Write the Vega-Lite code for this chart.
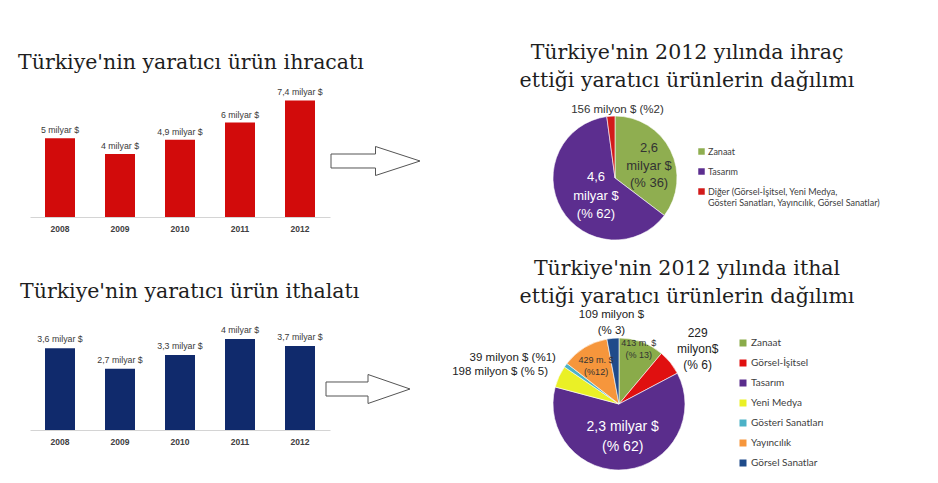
{
  "$schema": "https://vega.github.io/schema/vega-lite/v6.json",
  "padding": {"left": 18, "top": 42, "right": 5, "bottom": 0},
  "background": "white",
  "columns": 3,
  "spacing": {"row": 65, "column": 0},
  "bounds": "flush",
  "align": "each",
  "resolve": {"scale": {"color": "independent", "theta": "independent", "x": "independent", "y": "independent"}, "legend": {"color": "independent"}},
  "config": {"view": {"stroke": null}, "axis": {"grid": false}, "text": {"font": "Liberation Sans"}},
  "concat": [
    {
      "width": 300, "height": 126,
      "title": {"text": "Türkiye'nin yaratıcı ürün ihracatı", "anchor": "start", "frame": "group", "dx": -12, "offset": 15, "font": "DejaVu Serif", "fontSize": 20.5, "fontWeight": "normal", "color": "#1e1e1e"},
      "data": {"values": [
        {"year": "2008", "v": 5, "lbl": "5 milyar $"},
        {"year": "2009", "v": 4, "lbl": "4 milyar $"},
        {"year": "2010", "v": 4.9, "lbl": "4,9 milyar $"},
        {"year": "2011", "v": 6, "lbl": "6 milyar $"},
        {"year": "2012", "v": 7.4, "lbl": "7,4 milyar $"}
      ]},
      "encoding": {
        "x": {"field": "year", "type": "ordinal", "scale": {"paddingInner": 0.5, "paddingOuter": 0.25}, "axis": {"title": null, "labelAngle": 0, "ticks": false, "domainColor": "#d4d4d4", "labelPadding": 7, "labelFont": "Liberation Sans", "labelFontSize": 8.5, "labelFontWeight": "bold", "labelColor": "#404040"}},
        "y": {"field": "v", "type": "quantitative", "scale": {"domain": [0, 8], "nice": false}, "axis": null}
      },
      "layer": [
        {"mark": {"type": "bar", "color": "#d20b0b"}},
        {"mark": {"type": "text", "baseline": "bottom", "dy": -3, "fontSize": 8.8, "color": "#3a3a3a"}, "encoding": {"text": {"field": "lbl"}}}
      ]
    },
    {
      "width": 91, "height": 140,
      "data": {"values": [{"arrow": "ihracat"}]},
      "mark": {"type": "point", "shape": "M-1,-0.157L0,-0.157L0,-0.326L1,0L0,0.326L0,0.157L-1,0.157Z", "size": 7921, "filled": true, "fill": "#ffffff", "stroke": "#555555", "strokeWidth": 1, "opacity": 1},
      "encoding": {}
    },
    {
      "width": 388, "height": 174,
      "title": {"text": ["Türkiye'nin 2012 yılında ihraç", "ettiği yaratıcı ürünlerin dağılımı"], "anchor": "middle", "frame": "group", "dx": 72, "offset": 0, "lineHeight": 28, "font": "DejaVu Serif", "fontSize": 20.5, "fontWeight": "normal", "color": "#1e1e1e"},
      "data": {"values": [
        {"k": "Zanaat", "v": 2600, "o": 1, "lbl": "2,6\nmilyar $\n(% 36)"},
        {"k": "Tasarım", "v": 4600, "o": 2, "lbl": "4,6\nmilyar $\n(% 62)"},
        {"k": "Diğer", "v": 156, "o": 3, "lbl": "156 milyon $ (%2)"}
      ]},
      "encoding": {
        "theta": {"field": "v", "type": "quantitative", "stack": true},
        "order": {"field": "o", "type": "quantitative"}
      },
      "layer": [
        {"mark": {"type": "arc", "outerRadius": 62, "stroke": "#ffffff", "strokeWidth": 0.6},
         "encoding": {"color": {"field": "k", "type": "nominal",
           "scale": {"domain": ["Zanaat", "Tasarım", "Diğer"], "range": ["#8fae50", "#5c2e8f", "#d21a1a"]},
           "legend": {"orient": "none", "legendX": 276, "legendY": 56, "title": null, "symbolType": "square", "symbolSize": 42, "symbolStrokeWidth": 0, "labelFont": "Lato", "labelFontSize": 9, "labelColor": "#404040", "rowPadding": 10, "labelOffset": 2, "labelLimit": 400, "padding": 0,
             "labelExpr": "datum.label == 'Diğer' ? ['Diğer (Görsel-İşitsel, Yeni Medya,', 'Gösteri Sanatları, Yayıncılık, Görsel Sanatlar)'] : datum.label"}}}},
        {"mark": {"type": "text", "radius": 38, "dy": -13, "fontSize": 13, "lineHeight": 17.5, "lineBreak": "\n", "color": "#333333"},
         "encoding": {"detail": {"field": "k"}, "text": {"condition": {"test": "datum.k === 'Zanaat'", "field": "lbl"}, "value": ""}}},
        {"mark": {"type": "text", "radius": 22, "dy": -12, "fontSize": 13, "lineHeight": 18.5, "lineBreak": "\n", "color": "#ffffff"},
         "encoding": {"detail": {"field": "k"}, "text": {"condition": {"test": "datum.k === 'Tasarım'", "field": "lbl"}, "value": ""}}},
        {"mark": {"type": "text", "radius": 68, "dx": 7, "fontSize": 11.5, "color": "#333333"},
         "encoding": {"detail": {"field": "k"}, "text": {"condition": {"test": "datum.k === 'Diğer'", "field": "lbl"}, "value": ""}}}
      ]
    },
    {
      "width": 300, "height": 100,
      "title": {"text": "Türkiye'nin yaratıcı ürün ithalatı", "anchor": "start", "frame": "group", "dx": -10, "offset": 24, "font": "DejaVu Serif", "fontSize": 20.5, "fontWeight": "normal", "color": "#1e1e1e"},
      "data": {"values": [
        {"year": "2008", "v": 3.6, "lbl": "3,6 milyar $"},
        {"year": "2009", "v": 2.7, "lbl": "2,7 milyar $"},
        {"year": "2010", "v": 3.3, "lbl": "3,3 milyar $"},
        {"year": "2011", "v": 4, "lbl": "4 milyar $"},
        {"year": "2012", "v": 3.7, "lbl": "3,7 milyar $"}
      ]},
      "encoding": {
        "x": {"field": "year", "type": "ordinal", "scale": {"paddingInner": 0.5, "paddingOuter": 0.25}, "axis": {"title": null, "labelAngle": 0, "ticks": false, "domainColor": "#d4d4d4", "labelPadding": 7, "labelFont": "Liberation Sans", "labelFontSize": 8.5, "labelFontWeight": "bold", "labelColor": "#404040"}},
        "y": {"field": "v", "type": "quantitative", "scale": {"domain": [0, 4.4], "nice": false}, "axis": null}
      },
      "layer": [
        {"mark": {"type": "bar", "color": "#102a6c"}},
        {"mark": {"type": "text", "baseline": "bottom", "dy": -4, "fontSize": 8.8, "color": "#3a3a3a"}, "encoding": {"text": {"field": "lbl"}}}
      ]
    },
    {
      "width": 76, "height": 118,
      "data": {"values": [{"arrow": "ithalat"}]},
      "mark": {"type": "point", "shape": "M-1,-0.167L0,-0.167L0,-0.345L1,0L0,0.345L0,0.167L-1,0.167Z", "size": 7056, "filled": true, "fill": "#ffffff", "stroke": "#555555", "strokeWidth": 1, "opacity": 1},
      "encoding": {}
    },
    {
      "width": 396, "height": 148,
      "title": {"text": ["Türkiye'nin 2012 yılında ithal", "ettiği yaratıcı ürünlerin dağılımı"], "anchor": "middle", "frame": "group", "dx": 68, "offset": -16, "lineHeight": 28, "font": "DejaVu Serif", "fontSize": 20.5, "fontWeight": "normal", "color": "#1e1e1e"},
      "data": {"values": [
        {"k": "Zanaat", "v": 413, "o": 1, "lbl": "413 m. $\n(% 13)"},
        {"k": "Görsel-İşitsel", "v": 229, "o": 2, "lbl": "229\nmilyon$\n(% 6)"},
        {"k": "Tasarım", "v": 2300, "o": 3, "lbl": "2,3 milyar $\n(% 62)"},
        {"k": "Yeni Medya", "v": 198, "o": 4, "lbl": "198 milyon $ (% 5)"},
        {"k": "Gösteri Sanatları", "v": 39, "o": 5, "lbl": "39 milyon $ (%1)"},
        {"k": "Yayıncılık", "v": 429, "o": 6, "lbl": "429 m. $\n(%12)"},
        {"k": "Görsel Sanatlar", "v": 109, "o": 7, "lbl": "109 milyon $\n(% 3)"}
      ]},
      "encoding": {
        "theta": {"field": "v", "type": "quantitative", "stack": true},
        "order": {"field": "o", "type": "quantitative"}
      },
      "layer": [
        {"mark": {"type": "arc", "outerRadius": 66, "stroke": "#ffffff", "strokeWidth": 0.6},
         "encoding": {"color": {"field": "k", "type": "nominal",
           "scale": {"domain": ["Zanaat", "Görsel-İşitsel", "Tasarım", "Yeni Medya", "Gösteri Sanatları", "Yayıncılık", "Görsel Sanatlar"], "range": ["#8aab4a", "#e01010", "#5a2d8c", "#eaf026", "#4cb2c7", "#f6963c", "#1f4b8a"]},
           "legend": {"orient": "none", "legendX": 317, "legendY": 8, "title": null, "symbolType": "square", "symbolSize": 49, "symbolStrokeWidth": 0, "labelFont": "Lato", "labelFontSize": 10, "labelColor": "#404040", "rowPadding": 10, "labelOffset": 3, "labelLimit": 400, "padding": 0}}}},
        {"mark": {"type": "text", "radius": 58, "dy": -6, "fontSize": 9, "lineHeight": 12, "lineBreak": "\n", "color": "#333333"},
         "encoding": {"detail": {"field": "k"}, "text": {"condition": {"test": "datum.k === 'Zanaat'", "field": "lbl"}, "value": ""}}},
        {"mark": {"type": "text", "radius": 44, "dy": -6, "fontSize": 9, "lineHeight": 12, "lineBreak": "\n", "color": "#333333"},
         "encoding": {"detail": {"field": "k"}, "text": {"condition": {"test": "datum.k === 'Yayıncılık'", "field": "lbl"}, "value": ""}}},
        {"mark": {"type": "text", "radius": 33, "dy": -10, "fontSize": 14, "lineHeight": 20, "lineBreak": "\n", "color": "#ffffff"},
         "encoding": {"detail": {"field": "k"}, "text": {"condition": {"test": "datum.k === 'Tasarım'", "field": "lbl"}, "value": ""}}},
        {"mark": {"type": "text", "radius": 96, "dx": 4, "dy": -11, "fontSize": 12, "lineHeight": 16, "lineBreak": "\n", "color": "#222222"},
         "encoding": {"detail": {"field": "k"}, "text": {"condition": {"test": "datum.k === 'Görsel-İşitsel'", "field": "lbl"}, "value": ""}}},
        {"mark": {"type": "text", "radius": 82, "dy": -7, "fontSize": 11.5, "lineHeight": 16, "lineBreak": "\n", "color": "#222222"},
         "encoding": {"detail": {"field": "k"}, "text": {"condition": {"test": "datum.k === 'Görsel Sanatlar'", "field": "lbl"}, "value": ""}}},
        {"mark": {"type": "text", "radius": 78, "align": "right", "fontSize": 11.5, "color": "#222222"},
         "encoding": {"detail": {"field": "k"}, "text": {"condition": {"test": "datum.k === 'Yeni Medya' || datum.k === 'Gösteri Sanatları'", "field": "lbl"}, "value": ""}}}
      ]
    }
  ]
}
